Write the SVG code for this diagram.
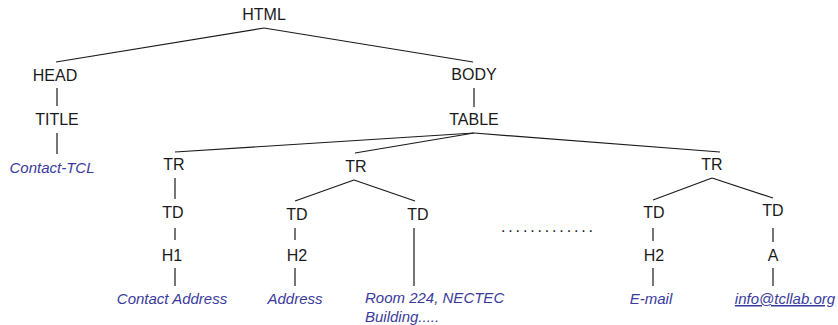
<svg xmlns="http://www.w3.org/2000/svg" width="838" height="325" viewBox="0 0 838 325">
<style>
.t{font-family:"Liberation Sans",Arial,sans-serif;font-size:16px;fill:#1a1a1a;text-anchor:middle}
.v{font-family:"Liberation Sans",Arial,sans-serif;font-size:15px;font-style:italic;fill:#3a3a9c;text-anchor:middle}
.l{fill:none;stroke:#1a1a1a;stroke-width:1.2}
</style>
<rect width="838" height="325" fill="#fff"/>
<g id="connectors" class="l">
<line x1="264" y1="28" x2="56" y2="62"/>
<line x1="264" y1="28" x2="473" y2="62"/>
<line x1="57" y1="88" x2="57" y2="106"/>
<line x1="57" y1="133" x2="57" y2="154"/>
<line x1="474" y1="88" x2="474" y2="107"/>
<line x1="474" y1="133" x2="175" y2="152"/>
<line x1="474" y1="133" x2="355" y2="153"/>
<line x1="474" y1="133" x2="720" y2="152"/>
<line x1="175" y1="178" x2="175" y2="199"/>
<line x1="175" y1="228" x2="175" y2="240"/>
<line x1="175" y1="268" x2="175" y2="286"/>
<line x1="354" y1="180" x2="295" y2="201"/>
<line x1="354" y1="180" x2="415" y2="201"/>
<line x1="295" y1="228" x2="295" y2="240"/>
<line x1="295" y1="268" x2="295" y2="286"/>
<line x1="414" y1="228" x2="414" y2="286"/>
<line x1="712" y1="178" x2="653" y2="200"/>
<line x1="712" y1="178" x2="773" y2="198"/>
<line x1="653" y1="228" x2="653" y2="241"/>
<line x1="653" y1="268" x2="653" y2="286"/>
<line x1="773" y1="228" x2="773" y2="242"/>
<line x1="773" y1="268" x2="773" y2="286"/>
</g>
<g id="html"><text class="t" x="264" y="20">HTML</text></g>
<g id="head"><text class="t" x="55" y="81">HEAD</text></g>
<g id="title"><text class="t" x="57" y="125">TITLE</text></g>
<g id="contact-tcl"><text class="v" x="52" y="173">Contact-TCL</text></g>
<g id="body"><text class="t" x="474" y="80">BODY</text></g>
<g id="table"><text class="t" x="474" y="125">TABLE</text></g>
<g id="tr1"><text class="t" x="174" y="170">TR</text></g>
<g id="td1"><text class="t" x="173" y="218">TD</text></g>
<g id="h1"><text class="t" x="172" y="261">H1</text></g>
<g id="contact-address"><text class="v" x="172" y="304">Contact Address</text></g>
<g id="tr2"><text class="t" x="356" y="172">TR</text></g>
<g id="td2a"><text class="t" x="297" y="220">TD</text></g>
<g id="h2a"><text class="t" x="297" y="261">H2</text></g>
<g id="address"><text class="v" x="295" y="304">Address</text></g>
<g id="td2b"><text class="t" x="418" y="220">TD</text></g>
<g id="room"><text class="v" x="365" y="303" style="text-anchor:start">Room 224, NECTEC</text><text class="v" x="365" y="322" style="text-anchor:start">Building.....</text></g>
<g id="dots"><text class="t" x="501" y="232" style="text-anchor:start;letter-spacing:2.85px">.............</text></g>
<g id="tr3"><text class="t" x="712" y="170">TR</text></g>
<g id="td3a"><text class="t" x="654" y="218">TD</text></g>
<g id="h2b"><text class="t" x="654" y="261">H2</text></g>
<g id="email"><text class="v" x="651" y="304">E-mail</text></g>
<g id="td3b"><text class="t" x="773" y="216">TD</text></g>
<g id="a"><text class="t" x="773" y="261">A</text></g>
<g id="info"><text class="v" x="785" y="304" text-decoration="underline">info@tcllab.org</text></g>
</svg>
